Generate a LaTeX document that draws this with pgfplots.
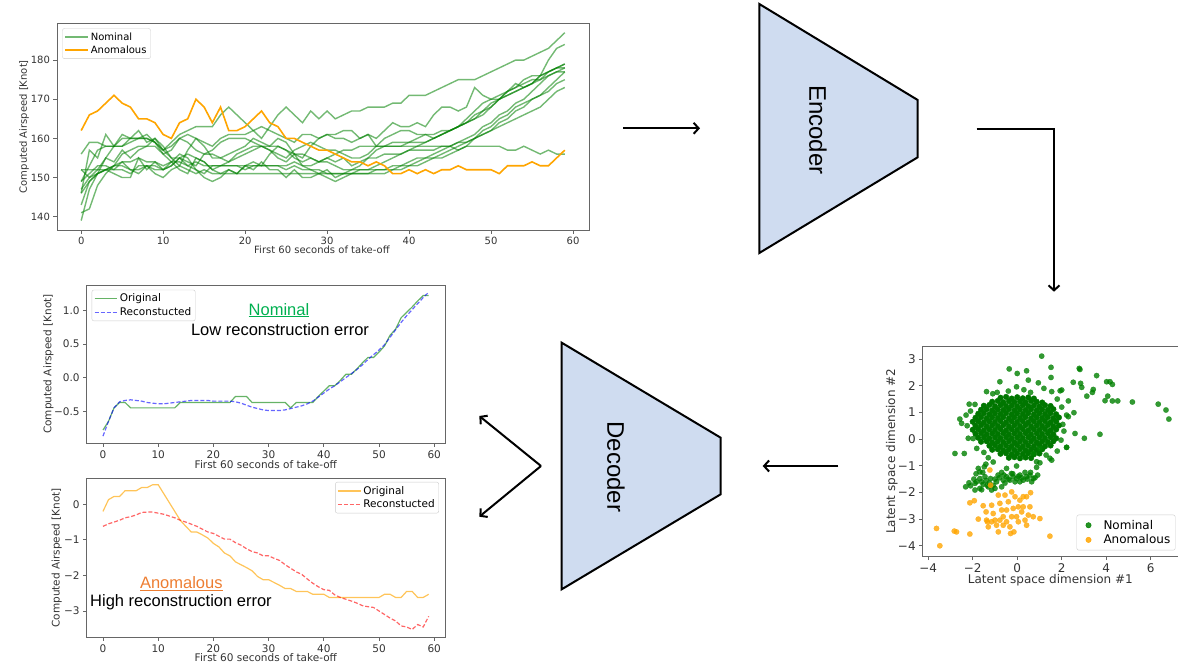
\documentclass[border=0pt]{standalone}
\usepackage{fontspec}
\setmainfont{DejaVu Sans}
\newfontfamily\arial{Liberation Sans}
\usepackage{pgfplots}
\usepackage{pgfplotstable}
\pgfplotsset{compat=1.18}
\usetikzlibrary{arrows.meta}
\definecolor{mgreen}{RGB}{0,128,0}
\definecolor{morange}{RGB}{255,165,0}
\definecolor{boxblue}{RGB}{207,220,240}
\definecolor{txtgreen}{RGB}{0,176,80}
\definecolor{txtorange}{RGB}{237,125,49}

\pgfplotstableread{
t o g1 g2 g3 g4 g5 g6 g7 g8 g9 g10 g11
0 162 156 149 152 146 143 141 139 147 149 146 152
1 166 159 153 152 157 149 142 147 150 151 149 150
2 167 159 157 152 155 151 148 151 152 153 151 151
3 169 158 158 152 161 152 151 152 155 153 152 155
4 171 158 158 153 158 152 153 151 154 152 153 158
5 169 158 160 153 161 154 154 150 157 152 156 158
6 168 160 160 152 160 154 152 150 155 151 157 159
7 165 160 160 152 162 155 151 155 157 153 158 160
8 165 160 161 153 159 154 153 152 158 153 158 160
9 164 159 159 152 160 154 151 154 158 153 160 159
10 161 157 157 152 158 153 150 152 156 152 157 156
11 160 159 158 153 155 154 152 154 157 153 155 154
12 164 161 160 155 153 154 153 156 160 155 155 152
13 165 162 161 153 157 153 152 155 159 156 154 151
14 170 163 160 152 160 154 151 152 157 155 153 155
15 168 163 159 151 158 153 152 150 156 154 156 154
16 164 163 158 153 155 153 151 149 157 152 156 152
17 168 166 160 153 155 153 151 150 159 151 155 153
18 162 168 161 153 156 153 151 152 160 152 154 154
19 162 166 161 153 157 153 151 151 160 151 155 156
20 163 164 161 153 158 152 151 153 160 153 156 157
21 165 162 162 153 160 153 151 152 159 154 157 158
22 167 160 163 153 159 153 151 154 158 153 158 158
23 164 163 162 153 158 153 151 152 157 156 158 157
24 163 166 161 153 160 153 151 152 155 158 158 156
25 160 168 160 153 159 152 151 150 154 157 157 155
26 160 166 159 154 156 153 151 152 156 155 156 157
27 159 164 161 153 155 152 151 150 153 154 156 158
28 158 167 161 153 158 152 151 150 152 155 155 159
29 157 165 160 154 160 152 151 151 151 154 154 158
30 157 167 161 155 161 151 151 150 152 155 154 157
31 156 165 160 156 161 151 151 149 150 154 153 157
32 155 166 160 157 162 151 151 150 151 155 152 156
33 154 167 159 157 162 151 151 151 152 153 152 155
34 154 167 160 158 160 151 151 152 153 154 152 155
35 153 168 161 158 161 151 151 152 155 155 152 156
36 154 168 160 158 158 152 151 153 157 155 152 158
37 153 168 162 158 160 152 151 154 158 156 152 158
38 151 169 164 158 161 153 152 155 158 156 152 159
39 151 169 163 158 162 153 152 156 158 156 153 159
40 152 171 163 158 162 154 153 157 159 157 153 159
41 151 171 164 158 161 155 153 158 159 157 154 160
42 152 171 163 158 161 155 154 159 159 157 155 161
43 151 172 166 158 161 156 155 160 160 157 155 160
44 152 173 168 158 162 157 155 161 161 158 156 161
45 152 174 168 158 162 158 156 162 162 158 157 162
46 153 175 167 157 163 159 157 163 163 159 158 163
47 152 175 168 158 164 160 158 164 164 159 159 165
48 152 175 173 158 165 161 160 166 165 160 160 167
49 152 176 171 158 166 163 161 167 167 161 162 169
50 152 177 170 158 168 164 162 168 169 162 163 170
51 151 178 170 158 170 166 164 170 170 163 165 171
52 153 179 172 157 171 167 165 171 172 164 166 172
53 153 180 174 157 172 169 167 172 173 165 168 173
54 153 180 173 158 173 170 168 173 174 166 169 175
55 154 181 174 157 174 172 170 174 175 167 170 176
56 153 182 176 156 175 174 171 176 175 168 171 176
57 153 183 180 157 177 176 173 177 176 170 172 177
58 155 185 183 156 178 177 175 178 177 172 174 178
59 157 187 184 156 179 178 177 179 177 173 175 178
}\speed

\pgfplotsset{
  mpl/.style={
    scale only axis,
    axis line style={black!60, line width=0.7pt},
    tick align=outside,
    tick pos=left,
    major tick length=3.5pt,
    tick style={black!60, line width=0.7pt},
    /pgf/number format/assume math mode=true,
    tick label style={text=black!80},
    every axis label/.append style={text=black!80},
    legend cell align=left,
    legend style={draw=black!20, rounded corners=2pt, fill=white, fill opacity=0.85, text opacity=1, inner sep=2pt, row sep=0pt},
    legend image code/.code={\draw[mark repeat=2,mark phase=2,##1] plot coordinates {(0cm,0cm) (0.4cm,0cm) (0.8cm,0cm)};},
  },
  dotlegend/.style={
    legend image code/.code={\path (0cm,0cm) (0.75cm,0cm); \fill[##1] (0.3cm,0cm) circle (2.7pt);},
  }
}

\begin{document}
\begin{tikzpicture}
\useasboundingbox (0pt,0pt) rectangle (1178pt,-671pt);

% ---------- top: raw time series ----------
\begin{axis}[mpl, at={(57pt,-230pt)}, anchor=south west, width=532pt, height=206.7pt,
  xmin=-2.95, xmax=61.95, ymin=136.6, ymax=189.4,
  xtick={0,10,...,60}, ytick={140,150,...,180},
  tick label style={font=\fontsize{10}{12}\selectfont},
  every axis label/.append style={font=\fontsize{10}{12}\selectfont},
  every axis x label/.style={at={(axis description cs:0.498,-0.097)}, anchor=center},
  every axis y label/.style={at={(axis description cs:-0.062,0.5)}, anchor=center, rotate=90},
  xlabel={First 60 seconds of take-off}, ylabel={Computed Airspeed [Knot]},
  legend style={at={(0.01,0.976)}, anchor=north west, font=\fontsize{10}{13}\selectfont},
]
\addplot[mgreen, opacity=0.55, line width=1.4pt] table[x=t,y=g1]{\speed};
\addlegendentry{Nominal}
\addplot[mgreen, opacity=0.55, line width=1.4pt, forget plot] table[x=t,y=g2]{\speed};
\addplot[mgreen, opacity=0.55, line width=1.4pt, forget plot] table[x=t,y=g3]{\speed};
\addplot[mgreen, opacity=0.55, line width=1.4pt, forget plot] table[x=t,y=g4]{\speed};
\addplot[mgreen, opacity=0.55, line width=1.4pt, forget plot] table[x=t,y=g5]{\speed};
\addplot[mgreen, opacity=0.55, line width=1.4pt, forget plot] table[x=t,y=g6]{\speed};
\addplot[mgreen, opacity=0.55, line width=1.4pt, forget plot] table[x=t,y=g7]{\speed};
\addplot[mgreen, opacity=0.55, line width=1.4pt, forget plot] table[x=t,y=g8]{\speed};
\addplot[mgreen, opacity=0.55, line width=1.4pt, forget plot] table[x=t,y=g9]{\speed};
\addplot[mgreen, opacity=0.55, line width=1.4pt, forget plot] table[x=t,y=g10]{\speed};
\addplot[mgreen, opacity=0.55, line width=1.4pt, forget plot] table[x=t,y=g11]{\speed};
\addplot[morange, line width=1.6pt] table[x=t,y=o]{\speed};
\addlegendentry{Anomalous}
\end{axis}

% ---------- nominal reconstruction ----------
\begin{axis}[mpl, at={(86.7pt,-443.3pt)}, anchor=south west, width=358.3pt, height=158.3pt,
  xmin=-2.95, xmax=61.95, ymin=-0.977, ymax=1.377,
  xtick={0,10,...,60}, ytick={-0.5,0,0.5,1}, yticklabels={−0.5,0.0,0.5,1.0},
  tick label style={font=\fontsize{10.5}{12}\selectfont},
  every axis label/.append style={font=\fontsize{10.5}{12}\selectfont},
  every axis x label/.style={at={(axis description cs:0.5,-0.137)}, anchor=center},
  every axis y label/.style={at={(axis description cs:-0.107,0.5)}, anchor=center, rotate=90},
  xlabel={First 60 seconds of take-off}, ylabel={Computed Airspeed [Knot]},
  legend style={at={(0.014,0.97)}, anchor=north west, font=\fontsize{10.5}{13}\selectfont},
]
\addplot[mgreen, opacity=0.6, line width=1.2pt] coordinates {
(0,-0.78)(1,-0.65)(2,-0.45)(3,-0.37)(4,-0.37)(5,-0.45)(6,-0.45)(7,-0.45)(8,-0.45)(9,-0.45)
(10,-0.45)(11,-0.45)(12,-0.45)(13,-0.45)(14,-0.37)(15,-0.37)(16,-0.37)(17,-0.37)(18,-0.37)(19,-0.37)
(20,-0.37)(21,-0.37)(22,-0.37)(23,-0.37)(24,-0.28)(25,-0.28)(26,-0.28)(27,-0.37)(28,-0.37)(29,-0.37)
(30,-0.37)(31,-0.37)(32,-0.37)(33,-0.37)(34,-0.45)(35,-0.37)(36,-0.37)(37,-0.37)(38,-0.37)(39,-0.28)
(40,-0.2)(41,-0.12)(42,-0.12)(43,-0.04)(44,0.05)(45,0.05)(46,0.13)(47,0.22)(48,0.3)(49,0.3)
(50,0.38)(51,0.47)(52,0.63)(53,0.72)(54,0.89)(55,0.97)(56,1.05)(57,1.14)(58,1.22)(59,1.22)};
\addlegendentry{Original}
\addplot[blue, opacity=0.6, line width=1.2pt, dash pattern=on 4pt off 2pt] coordinates {
(0,-0.87)(1,-0.65)(2,-0.45)(3,-0.36)(4,-0.34)(5,-0.33)(6,-0.34)(7,-0.35)(8,-0.37)(9,-0.38)
(10,-0.39)(11,-0.39)(12,-0.38)(13,-0.37)(14,-0.36)(15,-0.35)(16,-0.34)(17,-0.34)(18,-0.34)(19,-0.34)
(20,-0.35)(21,-0.35)(22,-0.35)(23,-0.35)(24,-0.36)(25,-0.38)(26,-0.41)(27,-0.44)(28,-0.46)(29,-0.48)
(30,-0.49)(31,-0.49)(32,-0.49)(33,-0.48)(34,-0.46)(35,-0.44)(36,-0.42)(37,-0.39)(38,-0.35)(39,-0.29)
(40,-0.23)(41,-0.17)(42,-0.12)(43,-0.06)(44,0.0)(45,0.06)(46,0.12)(47,0.19)(48,0.27)(49,0.34)
(50,0.41)(51,0.49)(52,0.6)(53,0.71)(54,0.82)(55,0.92)(56,1.01)(57,1.1)(58,1.19)(59,1.27)};
\addlegendentry{Reconstucted}
\end{axis}

% ---------- anomalous reconstruction ----------
\begin{axis}[mpl, at={(86.7pt,-637.3pt)}, anchor=south west, width=358.3pt, height=159pt,
  xmin=-2.95, xmax=61.95, ymin=-3.74, ymax=0.73,
  xtick={0,10,...,60}, ytick={-3,-2,-1,0}, yticklabels={−3,−2,−1,0},
  tick label style={font=\fontsize{10.5}{12}\selectfont},
  every axis label/.append style={font=\fontsize{10.5}{12}\selectfont},
  every axis x label/.style={at={(axis description cs:0.5,-0.128)}, anchor=center},
  every axis y label/.style={at={(axis description cs:-0.084,0.5)}, anchor=center, rotate=90},
  xlabel={First 60 seconds of take-off}, ylabel={Computed Airspeed [Knot]},
  legend style={at={(0.983,0.977)}, anchor=north east, font=\fontsize{10.5}{13}\selectfont},
]
\addplot[morange, opacity=0.65, line width=1.2pt] coordinates {
(0,-0.2)(1,0.13)(2,0.22)(3,0.22)(4,0.38)(5,0.38)(6,0.38)(7,0.47)(8,0.47)(9,0.55)
(10,0.55)(11,0.3)(12,0.05)(13,-0.2)(14,-0.45)(15,-0.62)(16,-0.78)(17,-0.78)(18,-0.86)(19,-0.95)
(20,-1.1)(21,-1.2)(22,-1.37)(23,-1.45)(24,-1.62)(25,-1.7)(26,-1.78)(27,-1.87)(28,-2.03)(29,-2.12)
(30,-2.12)(31,-2.2)(32,-2.28)(33,-2.37)(34,-2.37)(35,-2.45)(36,-2.45)(37,-2.45)(38,-2.53)(39,-2.53)
(40,-2.53)(41,-2.62)(42,-2.62)(43,-2.62)(44,-2.62)(45,-2.62)(46,-2.62)(47,-2.62)(48,-2.62)(49,-2.62)
(50,-2.62)(51,-2.53)(52,-2.53)(53,-2.62)(54,-2.62)(55,-2.45)(56,-2.45)(57,-2.62)(58,-2.62)(59,-2.53)};
\addlegendentry{Original}
\addplot[red, opacity=0.6, line width=1.2pt, dash pattern=on 4pt off 2pt] coordinates {
(0,-0.62)(1,-0.55)(2,-0.5)(3,-0.45)(4,-0.38)(5,-0.35)(6,-0.3)(7,-0.23)(8,-0.22)(9,-0.22)
(10,-0.25)(11,-0.28)(12,-0.33)(13,-0.38)(14,-0.45)(15,-0.5)(16,-0.56)(17,-0.62)(18,-0.7)(19,-0.78)
(20,-0.82)(21,-0.9)(22,-0.98)(23,-0.98)(24,-1.08)(25,-1.15)(26,-1.25)(27,-1.33)(28,-1.37)(29,-1.45)
(30,-1.45)(31,-1.52)(32,-1.58)(33,-1.7)(34,-1.8)(35,-1.9)(36,-1.97)(37,-2.1)(38,-2.22)(39,-2.32)
(40,-2.4)(41,-2.42)(42,-2.55)(43,-2.62)(44,-2.67)(45,-2.72)(46,-2.78)(47,-2.85)(48,-2.88)(49,-2.9)
(50,-3.0)(51,-3.1)(52,-3.2)(53,-3.28)(54,-3.42)(55,-3.45)(56,-3.52)(57,-3.38)(58,-3.45)(59,-3.15)};
\addlegendentry{Reconstucted}
\end{axis}

% ---------- latent space scatter ----------
\begin{axis}[mpl, dotlegend, at={(922.7pt,-556.7pt)}, anchor=south west, width=255.3pt, height=210.7pt,
  xmin=-4.25, xmax=7.23, ymin=-4.41, ymax=3.49,
  xtick={-4,-2,0,2,4,6}, xticklabels={−4,−2,0,2,4,6},
  ytick={-4,-3,-2,-1,0,1,2,3}, yticklabels={−4,−3,−2,−1,0,1,2,3},
  tick label style={font=\fontsize{12}{14}\selectfont},
  every axis label/.append style={font=\fontsize{12}{14}\selectfont},
  every axis x label/.style={at={(axis description cs:0.5,-0.111)}, anchor=center},
  every axis y label/.style={at={(axis description cs:-0.121,0.5)}, anchor=center, rotate=90},
  xlabel={Latent space dimension \#1}, ylabel={Latent space dimension \#2},
  legend style={at={(0.99,0.03)}, anchor=south east, font=\fontsize{12}{16}\selectfont, inner sep=3pt},
]
% dense core of the nominal cluster
\addplot[only marks, mark=*, mark size=2.8pt, color=mgreen!92!black, forget plot] coordinates {
(-0.75,1.55)(-0.5,1.58)(-0.25,1.52)(0,1.57)(0.25,1.53)(0.5,1.56)(0.75,1.52)
(-1.125,1.40)(-0.875,1.43)(-0.625,1.38)(-0.375,1.42)(-0.125,1.39)(0.125,1.41)(0.375,1.38)(0.625,1.43)(0.875,1.40)(1.125,1.37)
(-1.5,1.25)(-1.25,1.28)(-1,1.23)(-0.75,1.27)(-0.5,1.24)(-0.25,1.26)(0,1.23)(0.25,1.27)(0.5,1.24)(0.75,1.26)(1,1.22)(1.25,1.27)(1.5,1.24)
(-1.625,1.1)(-1.375,1.12)(-1.125,1.08)(-0.875,1.11)(-0.625,1.09)(-0.375,1.12)(-0.125,1.08)(0.125,1.11)(0.375,1.09)(0.625,1.12)(0.875,1.08)(1.125,1.11)(1.375,1.09)(1.625,1.12)
(-1.75,0.95)(-1.5,0.97)(-1.25,0.93)(-1,0.96)(-0.75,0.94)(-0.5,0.97)(-0.25,0.93)(0,0.96)(0.25,0.94)(0.5,0.97)(0.75,0.93)(1,0.96)(1.25,0.94)(1.5,0.97)(1.75,0.93)
(-1.875,0.8)(-1.625,0.82)(-1.375,0.78)(-1.125,0.81)(-0.875,0.79)(-0.625,0.82)(-0.375,0.78)(-0.125,0.81)(0.125,0.79)(0.375,0.82)(0.625,0.78)(0.875,0.81)(1.125,0.79)(1.375,0.82)(1.625,0.78)(1.875,0.81)
(-2,0.65)(-1.75,0.67)(-1.5,0.63)(-1.25,0.66)(-1,0.64)(-0.75,0.67)(-0.5,0.63)(-0.25,0.66)(0,0.64)(0.25,0.67)(0.5,0.63)(0.75,0.66)(1,0.64)(1.25,0.67)(1.5,0.63)(1.75,0.66)
(-1.875,0.5)(-1.625,0.52)(-1.375,0.48)(-1.125,0.51)(-0.875,0.49)(-0.625,0.52)(-0.375,0.48)(-0.125,0.51)(0.125,0.49)(0.375,0.52)(0.625,0.48)(0.875,0.51)(1.125,0.49)(1.375,0.52)(1.625,0.48)(1.875,0.51)
(-2,0.35)(-1.75,0.37)(-1.5,0.33)(-1.25,0.36)(-1,0.34)(-0.75,0.37)(-0.5,0.33)(-0.25,0.36)(0,0.34)(0.25,0.37)(0.5,0.33)(0.75,0.36)(1,0.34)(1.25,0.37)(1.5,0.33)(1.75,0.36)
(-1.875,0.2)(-1.625,0.22)(-1.375,0.18)(-1.125,0.21)(-0.875,0.19)(-0.625,0.22)(-0.375,0.18)(-0.125,0.21)(0.125,0.19)(0.375,0.22)(0.625,0.18)(0.875,0.21)(1.125,0.19)(1.375,0.22)(1.625,0.18)
(-1.75,0.05)(-1.5,0.07)(-1.25,0.03)(-1,0.06)(-0.75,0.04)(-0.5,0.07)(-0.25,0.03)(0,0.06)(0.25,0.04)(0.5,0.07)(0.75,0.03)(1,0.06)(1.25,0.04)(1.5,0.07)(1.75,0.03)
(-1.625,-0.1)(-1.375,-0.08)(-1.125,-0.12)(-0.875,-0.09)(-0.625,-0.11)(-0.375,-0.08)(-0.125,-0.12)(0.125,-0.09)(0.375,-0.11)(0.625,-0.08)(0.875,-0.12)(1.125,-0.09)(1.375,-0.11)(1.625,-0.08)
(-1.25,-0.25)(-1,-0.23)(-0.75,-0.27)(-0.5,-0.24)(-0.25,-0.26)(0,-0.23)(0.25,-0.27)(0.5,-0.24)(0.75,-0.26)(1,-0.23)(1.25,-0.27)(1.5,-0.24)
(-1.125,-0.4)(-0.875,-0.38)(-0.625,-0.42)(-0.375,-0.39)(-0.125,-0.41)(0.125,-0.38)(0.375,-0.42)(0.625,-0.39)(0.875,-0.41)(1.125,-0.38)
(-0.75,-0.55)(-0.5,-0.53)(-0.25,-0.57)(0,-0.54)(0.25,-0.56)(0.5,-0.53)(0.75,-0.57)(1,-0.54)
(-0.375,-0.7)(-0.125,-0.68)(0.125,-0.72)(0.375,-0.69)(0.625,-0.71)};
% remaining nominal points
\addplot[only marks, mark=*, mark size=2.7pt, color=mgreen, mark options={opacity=0.8, line width=0.2pt}] coordinates {
(-2.3,0.9)(-2.25,0.5)(-2.1,1.05)(2.05,0.55)(2.1,0.3)(2.0,1.2)(1.8,1.5)(-1.9,1.3)(-0.9,1.75)(0.6,1.75)
(1.8,-0.45)(-1.5,-0.5)(-1.3,-0.7)(1.3,-0.6)
(1.10,3.11)(-0.36,2.63)(0.0,2.46)(0.42,2.56)(1.52,2.69)(1.52,2.31)(2.79,2.65)(2.82,2.61)(3.57,2.38)
(4.02,2.15)(4.17,2.15)(4.28,2.05)(2.52,2.13)(2.85,2.09)(2.90,1.94)(3.42,1.86)(3.38,1.75)(3.13,1.61)
(4.07,1.61)(3.95,1.44)(4.28,1.43)(4.52,1.43)(5.18,1.39)(6.34,1.31)(6.69,1.09)(6.82,0.75)(3.72,0.18)
(3.02,0.03)(2.60,0.21)(2.22,-0.31)(1.97,-0.04)(2.30,0.84)(2.55,0.99)(1.93,1.81)(2.30,1.43)(1.55,1.78)
(0.95,2.11)(0.50,2.21)(-0.03,1.96)(-0.78,2.15)(-1.38,1.78)(-2.16,1.31)(-2.58,0.75)(-2.50,0.59)
(-2.80,-0.54)(-2.20,0.03)(-1.75,-1.10)(-1.48,-1.04)(-1.41,-0.94)(-1.08,-0.86)(-0.03,-1.01)(0.87,-1.06)
(1.02,-0.89)(1.55,-0.79)(0.72,-0.54)(1.02,-0.35)(-2.38,-0.54)(2.0,1.84)(2.22,0.90)(2.22,-0.31)
(-1.98,0.02)(-1.82,-0.35)(1.47,-0.72)(0.87,-0.85)(1.2,1.9)(-1.1,1.7)(0.3,1.85)(-0.4,1.8)
(-2.32,-1.79)(-2.17,-1.64)(-1.90,-1.91)(-1.83,-1.60)(-1.68,-1.48)(-1.53,-1.70)(-1.30,-1.79)(-1.45,-1.41)
(-1.20,-1.48)(-1.08,-1.73)(-0.93,-1.60)(-0.63,-1.54)(-0.48,-1.41)(-0.33,-1.54)(-0.18,-1.41)(-0.03,-1.48)
(0.12,-1.35)(0.27,-1.54)(0.42,-1.41)(0.57,-1.35)(0.72,-1.48)(0.92,-1.35)(-0.70,-1.79)(-0.86,-1.35)
(-0.26,-1.29)(-0.48,-1.10)(-1.68,-1.23)(-1.90,-1.66)(-1.35,-1.73)(-1.68,-1.85)(-1.15,-1.91)(0.12,-1.60)
(0.65,-1.60)(-1.55,-1.25)(-0.7,-1.25)(0.35,-1.25)
(-2.1,-1.75)(-1.95,-1.5)(-1.6,-1.6)(-1.4,-1.55)(-1.25,-1.65)(-1.0,-1.5)(-0.8,-1.45)(-0.55,-1.65)
(-0.4,-1.5)(-0.1,-1.6)(0.05,-1.4)(0.2,-1.45)(0.45,-1.5)(0.8,-1.45)(-1.6,-1.9)(-1.0,-1.85)
(-0.2,-1.3)(0.6,-1.25)(-0.6,-1.35)(-1.85,-1.3)};
\addlegendentry{Nominal}
\addplot[only marks, mark=*, mark size=2.7pt, color=morange, mark options={opacity=0.8, line width=0.2pt}] coordinates {
(-1.23,-1.16)(-1.20,-1.73)(-1.93,-2.31)(-2.13,-2.39)(-3.63,-3.35)(-3.48,-4.0)(-2.83,-3.45)(-2.73,-3.48)
(-2.13,-3.56)(-1.75,-3.0)(-1.53,-2.50)(-1.40,-2.73)(-1.34,-3.1)(-1.30,-3.29)(-1.15,-2.48)(-1.08,-2.79)
(-1.0,-3.04)(-0.93,-3.23)(-0.85,-3.48)(-0.78,-2.41)(-0.70,-2.66)(-0.63,-2.91)(-0.55,-2.10)(-0.48,-3.1)
(-0.40,-2.35)(-0.33,-3.29)(-0.30,-3.54)(-0.18,-2.60)(-0.10,-2.16)(-0.03,-2.91)(0.05,-3.1)(0.12,-2.29)
(0.20,-2.73)(0.27,-2.54)(0.35,-3.04)(0.42,-2.16)(0.50,-2.85)(0.57,-2.54)(0.60,-2.01)(0.72,-2.91)
(1.02,-2.98)(1.47,-3.64)(-0.15,-3.48)(-0.85,-2.10)(-0.25,-1.98)(-0.48,-2.66)(-1.38,-3.04)(0.05,-2.54)
(-0.63,-3.23)(0.42,-3.23)(-1.15,-3.1)(-0.25,-2.91)(-0.78,-3.04)(0.27,-2.16)};
\addlegendentry{Anomalous}
\end{axis}

% ---------- Encoder / Decoder blocks ----------
\draw[line width=2pt, fill=boxblue, line join=miter] (759.3pt,-4pt) -- (917.7pt,-100pt) -- (917.7pt,-157.3pt) -- (759.3pt,-253pt) -- cycle;
\node[rotate=-90, font=\arial\fontsize{24}{28}\selectfont] at (818pt,-130pt) {Encoder};
\draw[line width=2pt, fill=boxblue, line join=miter] (561.7pt,-342.7pt) -- (720.7pt,-437.7pt) -- (720.7pt,-494.3pt) -- (561.7pt,-589.3pt) -- cycle;
\node[rotate=-90, font=\arial\fontsize{24}{28}\selectfont] at (616pt,-466.7pt) {Decoder};

% ---------- arrows ----------
\begin{scope}[line width=2pt, -{Straight Barb[length=5pt,width=11pt]}]
\draw (623pt,-128.3pt) -- (700pt,-128.3pt);
\draw (976.7pt,-128.7pt) -- (1054pt,-128.7pt) -- (1054pt,-291.7pt);
\draw (838.3pt,-466pt) -- (762.7pt,-466pt);
\draw (541pt,-466pt) -- (479.3pt,-416pt);
\draw (541pt,-466pt) -- (479.3pt,-516.7pt);
\end{scope}

% ---------- annotations ----------
\node[anchor=base, font=\arial\fontsize{16.5}{19}\selectfont, text=txtgreen] at (279pt,-315pt) {\underline{Nominal}};
\node[anchor=base, font=\arial\fontsize{16.5}{19}\selectfont] at (280pt,-335.7pt) {Low reconstruction error};
\node[anchor=base, font=\arial\fontsize{16.5}{19}\selectfont, text=txtorange] at (181.3pt,-588.3pt) {\underline{Anomalous}};
\node[anchor=base west, inner sep=0pt, font=\arial\fontsize{16.5}{19}\selectfont] at (90pt,-606.7pt) {High reconstruction error};
\end{tikzpicture}
\end{document}
